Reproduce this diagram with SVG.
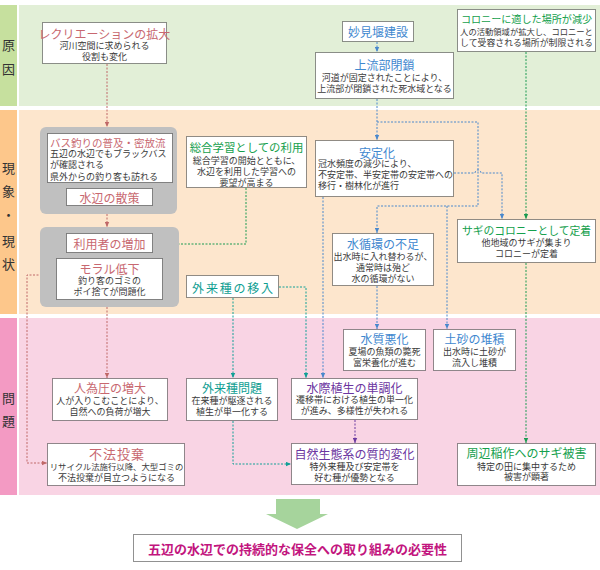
<svg xmlns="http://www.w3.org/2000/svg" width="600" height="570" viewBox="0 0 600 570">
<style>
text{font-family:"Noto Sans CJK JP","Noto Sans CJK SC",sans-serif;dominant-baseline:central}
.box{fill:#fff;stroke:#222;stroke-width:1;stroke-dasharray:1,1}
.grp{fill:#c0c0c0}
.b{font-size:9px;fill:#3a3a3a;text-anchor:middle}
.bl{font-size:9px;fill:#3a3a3a;text-anchor:start}
.t{font-size:12px;text-anchor:middle}
.band{font-size:13px;fill:#333;text-anchor:middle}
.rose{fill:#c86870}.blue{fill:#3f88cf}.green{fill:#14a04c}.teal{fill:#0f9e92}.purple{fill:#6b35a0}
.c{fill:none;stroke-width:1;stroke-dasharray:2,1.5}
.cr{stroke:#c06868}.cb{stroke:#4a88cc}.cg{stroke:#1a9a50}.ct{stroke:#12a096}.cp{stroke:#6b3aa0}
</style>
<defs>
<marker id="ar" viewBox="0 0 5 5" refX="5" refY="2.5" markerWidth="5" markerHeight="5" markerUnits="userSpaceOnUse" orient="auto"><path d="M0,0.3 L5,2.5 L0,4.7z" fill="#c06868"/></marker>
<marker id="ab" viewBox="0 0 5 5" refX="5" refY="2.5" markerWidth="5" markerHeight="5" markerUnits="userSpaceOnUse" orient="auto"><path d="M0,0.3 L5,2.5 L0,4.7z" fill="#4a88cc"/></marker>
<marker id="ag" viewBox="0 0 5 5" refX="5" refY="2.5" markerWidth="5" markerHeight="5" markerUnits="userSpaceOnUse" orient="auto"><path d="M0,0.3 L5,2.5 L0,4.7z" fill="#1a9a50"/></marker>
<marker id="at" viewBox="0 0 5 5" refX="5" refY="2.5" markerWidth="5" markerHeight="5" markerUnits="userSpaceOnUse" orient="auto"><path d="M0,0.3 L5,2.5 L0,4.7z" fill="#12a096"/></marker>
<marker id="ap" viewBox="0 0 5 5" refX="5" refY="2.5" markerWidth="5" markerHeight="5" markerUnits="userSpaceOnUse" orient="auto"><path d="M0,0.3 L5,2.5 L0,4.7z" fill="#6b3aa0"/></marker>
</defs>
<rect width="600" height="570" fill="#fff"/>
<g id="bands">
<rect x="0" y="5" width="17" height="101" fill="#c6e09e"/>
<rect x="19" y="5" width="581" height="101" fill="#e2efd7"/>
<rect x="0" y="110" width="17" height="204" fill="#fdc78b"/>
<rect x="19" y="110" width="581" height="204" fill="#fde6cd"/>
<rect x="0" y="318" width="17" height="177" fill="#f39ac3"/>
<rect x="19" y="318" width="581" height="177" fill="#f9d4e4"/>
<text class="band" x="8.5" y="44">原</text>
<text class="band" x="8.5" y="68">因</text>
<text class="band" x="8.5" y="167">現</text>
<text class="band" x="8.5" y="190">象</text>
<text class="band" x="8.5" y="214">・</text>
<text class="band" x="8.5" y="240">現</text>
<text class="band" x="8.5" y="263">状</text>
<text class="band" x="8.5" y="397">問</text>
<text class="band" x="8.5" y="420">題</text>
</g>
<g id="connectors">
<path class="c cr" d="M107,64 V127" marker-end="url(#ar)"/>
<path class="c cr" d="M107,214 V227" marker-end="url(#ar)"/>
<path class="c cr" d="M107,307 V378" marker-end="url(#ar)"/>
<path class="c cr" d="M56,275 H27 V463 H47" marker-end="url(#ar)"/>
<path class="c cg" d="M246,188 V244 H153" marker-end="url(#ag)"/>
<path class="c cg" d="M526,52 V219" marker-end="url(#ag)"/>
<path class="c cg" d="M526,263 V443" marker-end="url(#ag)"/>
<path class="c cb" d="M377,42 V52" marker-end="url(#ab)"/>
<path class="c cb" d="M377,99 V140" marker-end="url(#ab)"/>
<path class="c cb" d="M377,122 H478 V206 H377 V233" marker-end="url(#ab)"/>
<path class="c cb" d="M447,206 V329" marker-end="url(#ab)"/>
<path class="c cb" d="M454,173 H475 A3,3 0 0 1 481,173 H502 V219" marker-end="url(#ab)"/>
<path class="c cb" d="M323,197 V378" marker-end="url(#ab)"/>
<path class="c cb" d="M377,286 V329" marker-end="url(#ab)"/>
<path class="c ct" d="M233,298 V378" marker-end="url(#at)"/>
<path class="c ct" d="M279,287 H306 V378" marker-end="url(#at)"/>
<path class="c ct" d="M233,421 V464 H291" marker-end="url(#at)"/>
<path class="c cp" d="M355,420 V443" marker-end="url(#ap)"/>
</g>
<g id="n-recreation">
<rect class="box" x="42.5" y="22.5" width="124" height="41"/>
<text class="t rose" x="104.5" y="33">レクリエーションの拡大</text>
<text class="b" x="104.5" y="45">河川空間に求められる</text>
<text class="b" x="104.5" y="56">役割も変化</text>
</g>
<g id="n-weir">
<rect class="box" x="342.5" y="21.5" width="71" height="20"/>
<text class="t blue" x="378" y="31.5">妙見堰建設</text>
</g>
<g id="n-upstream">
<rect class="box" x="315.5" y="52.5" width="138" height="46"/>
<text class="t blue" x="384.5" y="64">上流部閉鎖</text>
<text class="b" x="384.5" y="77">河道が固定されたことにより、</text>
<text class="b" x="384.5" y="88">上流部が閉鎖された死水域となる</text>
</g>
<g id="n-colony-loss">
<rect class="box" x="457.5" y="9.5" width="138" height="42"/>
<text class="t green" x="526.5" y="18.5" style="font-size:10.1px">コロニーに適した場所が減少</text>
<text class="b" x="526.5" y="31" style="font-size:8.3px">人の活動領域が拡大し、コロニーと</text>
<text class="b" x="526.5" y="42" style="font-size:8.9px">して受容される場所が制限される</text>
</g>
<g id="g-bass">
<rect class="grp" x="40" y="127" width="137" height="87" rx="6"/>
<g id="n-bass">
<rect class="box" x="47.5" y="133.5" width="125" height="49"/>
<text class="t rose" x="50" y="142" style="text-anchor:start;font-size:10.5px">バス釣りの普及・密放流</text>
<text class="bl" x="50" y="153.5">五辺の水辺でもブラックバス</text>
<text class="bl" x="50" y="164.5">が確認される</text>
<text class="bl" x="50" y="176">県外からの釣り客も訪れる</text>
</g>
<g id="n-walk">
<rect class="box" x="66.5" y="188.5" width="86" height="17"/>
<text class="t rose" x="109.5" y="197.5">水辺の散策</text>
</g>
</g>
<g id="g-users">
<rect class="grp" x="40" y="227" width="139" height="80" rx="6"/>
<g id="n-users">
<rect class="box" x="66.5" y="233.5" width="86" height="19"/>
<text class="t rose" x="109.5" y="243">利用者の増加</text>
</g>
<g id="n-moral">
<rect class="box" x="56.5" y="258.5" width="106" height="41"/>
<text class="t rose" x="109.5" y="268">モラル低下</text>
<text class="b" x="109.5" y="280">釣り客のゴミの</text>
<text class="b" x="109.5" y="291">ポイ捨てが問題化</text>
</g>
</g>
<g id="n-study">
<rect class="box" x="186.5" y="136.5" width="120" height="51"/>
<text class="t green" x="246.5" y="147" style="font-size:11.4px">総合学習としての利用</text>
<text class="b" x="246.5" y="160">総合学習の開始とともに、</text>
<text class="b" x="246.5" y="171">水辺を利用した学習への</text>
<text class="b" x="246.5" y="182">要望が高まる</text>
</g>
<g id="n-stable">
<rect class="box" x="315.5" y="140.5" width="138" height="56"/>
<text class="t blue" x="377" y="152">安定化</text>
<text class="bl" x="318" y="163.5">冠水頻度の減少により、</text>
<text class="bl" x="318" y="174.5">不安定帯、半安定帯の安定帯への</text>
<text class="bl" x="318" y="185.5">移行・樹林化が進行</text>
</g>
<g id="n-circulation">
<rect class="box" x="332.5" y="233.5" width="101" height="52"/>
<text class="t blue" x="383" y="243.5">水循環の不足</text>
<text class="b" x="383" y="256">出水時に入れ替わるが、</text>
<text class="b" x="383" y="267.5">通常時は殆ど</text>
<text class="b" x="383" y="278.5">水の循環がない</text>
</g>
<g id="n-colony">
<rect class="box" x="457.5" y="219.5" width="138" height="43"/>
<text class="t green" x="526.5" y="229.5" style="font-size:10.8px">サギのコロニーとして定着</text>
<text class="b" x="526.5" y="242">他地域のサギが集まり</text>
<text class="b" x="526.5" y="253">コロニーが定着</text>
</g>
<g id="n-alien-in">
<rect class="box" x="186.5" y="275.5" width="92" height="22"/>
<text class="t teal" x="233.5" y="287" style="letter-spacing:1.8px">外来種の移入</text>
</g>
<g id="n-water">
<rect class="box" x="343.5" y="329.5" width="82" height="41"/>
<text class="t blue" x="384.5" y="338.5">水質悪化</text>
<text class="b" x="384.5" y="351">夏場の魚類の斃死</text>
<text class="b" x="384.5" y="362.5">富栄養化が進む</text>
</g>
<g id="n-sediment">
<rect class="box" x="433.5" y="329.5" width="82" height="41"/>
<text class="t blue" x="474.5" y="338.5">土砂の堆積</text>
<text class="b" x="474.5" y="351">出水時に土砂が</text>
<text class="b" x="474.5" y="362.5">流入し堆積</text>
</g>
<g id="n-pressure">
<rect class="box" x="52.5" y="378.5" width="115" height="42"/>
<text class="t rose" x="110" y="387.5">人為圧の増大</text>
<text class="b" x="110" y="400">人が入りこむことにより、</text>
<text class="b" x="110" y="411">自然への負荷が増大</text>
</g>
<g id="n-alien">
<rect class="box" x="186.5" y="378.5" width="91" height="42"/>
<text class="t teal" x="232" y="387.5">外来種問題</text>
<text class="b" x="232" y="400">在来種が駆逐される</text>
<text class="b" x="232" y="411">植生が単一化する</text>
</g>
<g id="n-vegetation">
<rect class="box" x="291.5" y="378.5" width="126" height="41"/>
<text class="t purple" x="354.5" y="387.5">水際植生の単調化</text>
<text class="b" x="354.5" y="399.5">遷移帯における植生の単一化</text>
<text class="b" x="354.5" y="410.5">が進み、多様性が失われる</text>
</g>
<g id="n-dumping">
<rect class="box" x="47.5" y="443.5" width="137" height="42"/>
<text class="t rose" x="117" y="453.5" style="font-size:13px;letter-spacing:1px">不法投棄</text>
<text class="b" x="116.5" y="466" style="font-size:8.4px">リサイクル法施行以降、大型ゴミの</text>
<text class="b" x="116.5" y="477">不法投棄が目立つようになる</text>
</g>
<g id="n-ecosystem">
<rect class="box" x="291.5" y="443.5" width="126" height="41"/>
<text class="t purple" x="354.5" y="453.5">自然生態系の質的変化</text>
<text class="b" x="354.5" y="466">特外来種及び安定帯を</text>
<text class="b" x="354.5" y="477.5">好む種が優勢となる</text>
</g>
<g id="n-damage">
<rect class="box" x="457.5" y="443.5" width="138" height="42"/>
<text class="t green" x="526.5" y="452.5">周辺稲作へのサギ被害</text>
<text class="b" x="526.5" y="466">特定の田に集中するため</text>
<text class="b" x="526.5" y="476.5">被害が顕著</text>
</g>
<g id="big-arrow">
<path d="M276,499 H320 V514 H328 L297,529 L266,514 H276 Z" fill="#a6d49c"/>
</g>
<g id="n-conclusion">
<rect class="box" x="133.5" y="534.5" width="328" height="27"/>
<text x="297.5" y="548" style="font-size:13px;font-weight:bold;fill:#c2157e;text-anchor:middle">五辺の水辺での持続的な保全への取り組みの必要性</text>
</g>
</svg>
